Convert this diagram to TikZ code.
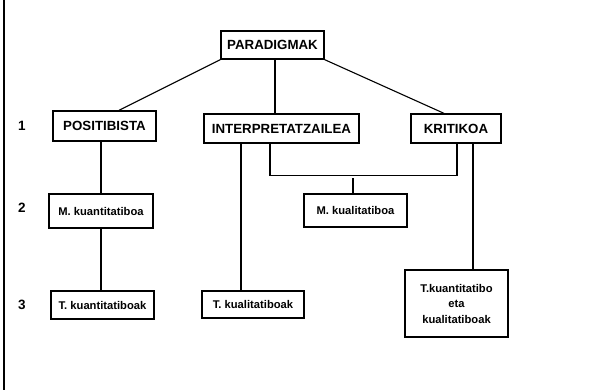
\documentclass[tikz,border=0pt]{standalone}
\usepackage{fontspec}
\setmainfont{Liberation Sans}
\usepackage{tikz}
\usetikzlibrary{positioning, calc}

\begin{document}
\begin{tikzpicture}[
    x=1pt, y=-1pt,
    bigbox/.style={rectangle, draw=black, line width=1.3pt, fill=white, align=center,
                   inner sep=0pt, font=\fontsize{13.3}{15}\selectfont\bfseries},
    smallbox/.style={rectangle, draw=black, line width=1.3pt, fill=white, align=center,
                     inner sep=0pt, font=\fontsize{11.2}{15.5}\selectfont\bfseries},
    lvl/.style={font=\fontsize{13.5}{15}\selectfont\bfseries},
    link/.style={line width=1.1pt, black},
]
\useasboundingbox (0,0) rectangle (605,390);

% Left frame edge
\draw[line width=2.5pt] (4,0) -- (4,390);

% Level numbers
\node[lvl] (lvlone) at (22,126) {1};
\node[lvl] (lvltwo) at (22,208) {2};
\node[lvl] (lvlthree) at (22,305) {3};

% Root
\node[bigbox, minimum width=103pt, minimum height=28pt] (paradigmak) at (272.5,45) {PARADIGMAK};

% Row 1: paradigms
\node[bigbox, minimum width=103pt, minimum height=30pt] (positibista) at (104.5,126) {POSITIBISTA};
\node[bigbox, minimum width=155pt, minimum height=29pt] (interpretatzailea) at (281.5,128.5) {INTERPRETATZAILEA};
\node[bigbox, minimum width=90pt, minimum height=29pt] (kritikoa) at (456,128.5) {KRITIKOA};

% Row 2: methodologies
\node[smallbox, minimum width=104pt, minimum height=34pt] (mkuanti) at (101,211) {M. kuantitatiboa};
\node[smallbox, minimum width=103pt, minimum height=33pt] (mkuali) at (355.5,210.5) {M. kualitatiboa};

% Row 3: techniques
\node[smallbox, minimum width=103pt, minimum height=28pt] (tkuanti) at (102.5,305) {T. kuantitatiboak};
\node[smallbox, minimum width=102pt, minimum height=27pt] (tkuali) at (253,304.5) {T. kualitatiboak};
\node[smallbox, minimum width=103pt, minimum height=67pt] (tboth) at (456.5,303.5) {T.kuantitatibo\\eta\\kualitatiboak};

% === Connectors ===
% Root to paradigms
\draw[link] (paradigmak.south west) -- ([xshift=14.5pt]positibista.north);
\draw[link] ([xshift=2.5pt]paradigmak.south) -- ([xshift=2.5pt]paradigmak.south |- interpretatzailea.north);
\draw[link] (paradigmak.south east) -- ([xshift=-12pt]kritikoa.north);

% Positivist branch
\draw[link] (mkuanti.north) -- (mkuanti.north |- positibista.south);
\draw[link] (mkuanti.south) -- (mkuanti.south |- tkuanti.north);

% Interpretative branch
\draw[link] ([xshift=-12pt]tkuali.north) -- ([xshift=-12pt]tkuali.north |- interpretatzailea.south);
\draw[link] ([xshift=-11.5pt]interpretatzailea.south) -- ++(0,32) -| ([xshift=1pt]kritikoa.south);
\draw[link] ([xshift=-2.5pt]mkuali.north) -- ++(0,-15);

% Critical branch
\draw[link] ([xshift=17pt]kritikoa.south) -- ([xshift=17pt]kritikoa.south |- tboth.north);

\end{tikzpicture}
\end{document}
